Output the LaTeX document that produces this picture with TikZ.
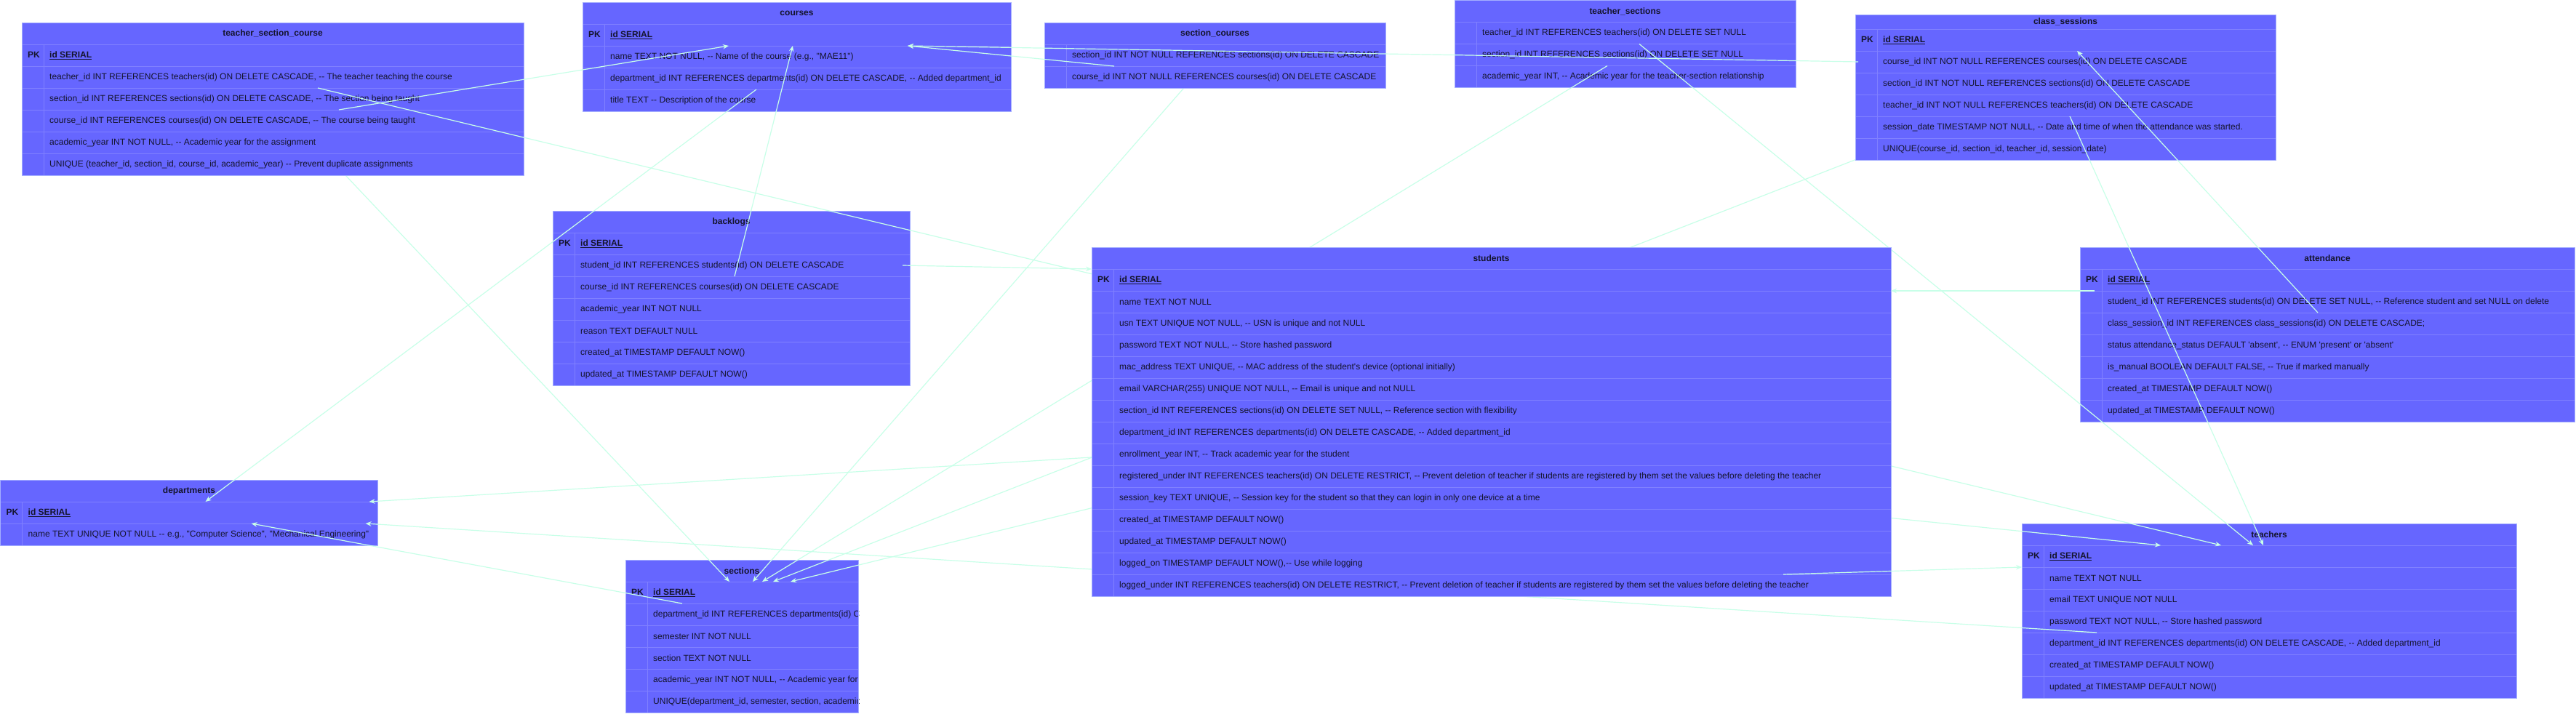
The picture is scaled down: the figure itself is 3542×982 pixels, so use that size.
\documentclass[tikz,border=0pt]{standalone}
\usepackage{fontspec}
\setmainfont{Liberation Sans}[Ligatures=TeXOff]
\usetikzlibrary{arrows.meta}
\definecolor{tablefill}{RGB}{102,102,255}
\definecolor{rowline}{RGB}{128,128,255}
\definecolor{tableedge}{RGB}{165,175,255}
\definecolor{fieldtext}{RGB}{20,20,45}
\definecolor{fkline}{RGB}{200,255,232}

\pgfdeclarelayer{secrefs}
\pgfdeclarelayer{tables}
\pgfdeclarelayer{refs}
\pgfdeclarelayer{stulayer}
\pgfdeclarelayer{sturefs}
\pgfsetlayers{main,secrefs,tables,refs,stulayer,sturefs}

\newcommand{\pkid}{\makebox[0pt][l]{\hspace{-30pt}\textbf{PK}}\textbf{\underline{id SERIAL}}}
% [header height]{name}{x}{y}{width}{title}{rows}
\newcommand{\ertable}[7][30]{%
  \node[erhead, minimum width=#5, minimum height=#1, anchor=north west] (#2-0) at (#3,#4) {#6};
  \foreach \fieldtxt [count=\i] in {#7} {
    \node[errow, minimum width=#5, anchor=north west] (#2-\i) at ({#3},{#4+#1+30*(\i-1)}) {};
    \node[ertext] at ([xshift=38pt]#2-\i.west) {\fieldtxt};
    \xdef\ernrows{\i}
  }
  \draw[rowline] ([xshift=30pt]#2-1.north west) -- ([xshift=30pt]#2-\ernrows.south west);
  \draw[tableedge] (#2-0.north west) rectangle (#2-\ernrows.south east);
}

\begin{document}
\catcode`\_=12
\begin{tikzpicture}[x=1pt, y=-1pt,
    erhead/.style={fill=tablefill, draw=rowline, inner sep=0pt, outer sep=0pt,
      font=\fontsize{12}{14}\selectfont\bfseries, text=fieldtext},
    errow/.style={fill=tablefill, draw=rowline, inner sep=0pt, outer sep=0pt, minimum height=30},
    ertext/.style={inner sep=0pt, anchor=west, font=\fontsize{12}{14}\selectfont, text=fieldtext},
    fk/.style={draw=fkline, line width=1.2pt, -{Stealth[length=8pt,width=6.5pt]}}]
  \fill[white] (0,0) rectangle (3542,982);
  \useasboundingbox (0,0) rectangle (3542,982);

  % tables, bottom layer
  \ertable{ts}{2000}{0.5}{469}{teacher_sections}{
    {teacher_id INT REFERENCES teachers(id) ON DELETE SET NULL},
    {section_id INT REFERENCES sections(id) ON DELETE SET NULL},
    {academic_year INT, -- Academic year for the teacher-section relationship}}
  \ertable{att}{2860}{340}{680}{attendance}{{\pkid},
    {student_id INT REFERENCES students(id) ON DELETE SET NULL, -- Reference student and set NULL on delete},
    {class_session_id INT REFERENCES class_sessions(id) ON DELETE CASCADE;},
    {status attendance_status DEFAULT 'absent', -- ENUM 'present' or 'absent'},
    {is_manual BOOLEAN DEFAULT FALSE, -- True if marked manually},
    {created_at TIMESTAMP DEFAULT NOW()},
    {updated_at TIMESTAMP DEFAULT NOW()}}
  \begin{scope}
    \clip (859,769) rectangle (1181,982);
    \ertable{sec}{860}{770}{320}{sections}{{\pkid},
      {department_id INT REFERENCES departments(id) C},
      {semester INT NOT NULL},
      {section TEXT NOT NULL},
      {academic_year INT NOT NULL, -- Academic year for},
      {UNIQUE(department_id, semester, section, academic}}
  \end{scope}

  % tables, middle layer
  \begin{pgfonlayer}{tables}
  \ertable{tsc}{30}{31}{690}{teacher_section_course}{{\pkid},
    {teacher_id INT REFERENCES teachers(id) ON DELETE CASCADE, -- The teacher teaching the course},
    {section_id INT REFERENCES sections(id) ON DELETE CASCADE, -- The section being taught},
    {course_id INT REFERENCES courses(id) ON DELETE CASCADE, -- The course being taught},
    {academic_year INT NOT NULL, -- Academic year for the assignment},
    {UNIQUE (teacher_id, section_id, course_id, academic_year) -- Prevent duplicate assignments}}
  \ertable{sc}{1436}{31}{469}{section_courses}{
    {section_id INT NOT NULL REFERENCES sections(id) ON DELETE CASCADE},
    {course_id INT NOT NULL REFERENCES courses(id) ON DELETE CASCADE}}
  \ertable[20]{cs}{2551}{20}{578}{class_sessions}{{\pkid},
    {course_id INT NOT NULL REFERENCES courses(id) ON DELETE CASCADE},
    {section_id INT NOT NULL REFERENCES sections(id) ON DELETE CASCADE},
    {teacher_id INT NOT NULL REFERENCES teachers(id) ON DELETE CASCADE},
    {session_date TIMESTAMP NOT NULL, -- Date and time of when the attendance was started.},
    {UNIQUE(course_id, section_id, teacher_id, session_date)}}
  \ertable{blg}{760}{290}{491}{backlogs}{{\pkid},
    {student_id INT REFERENCES students(id) ON DELETE CASCADE},
    {course_id INT REFERENCES courses(id) ON DELETE CASCADE},
    {academic_year INT NOT NULL},
    {reason TEXT DEFAULT NULL},
    {created_at TIMESTAMP DEFAULT NOW()},
    {updated_at TIMESTAMP DEFAULT NOW()}}
  \ertable{tea}{2780}{720}{680}{teachers}{{\pkid},
    {name TEXT NOT NULL},
    {email TEXT UNIQUE NOT NULL},
    {password TEXT NOT NULL, -- Store hashed password},
    {department_id INT REFERENCES departments(id) ON DELETE CASCADE, -- Added department_id},
    {created_at TIMESTAMP DEFAULT NOW()},
    {updated_at TIMESTAMP DEFAULT NOW()}}
  \ertable{crs}{801}{3}{589}{courses}{{\pkid},
    {name TEXT NOT NULL, -- Name of the course (e.g., "MAE11")},
    {department_id INT REFERENCES departments(id) ON DELETE CASCADE, -- Added department_id},
    {title TEXT -- Description of the course}}
  \ertable{dep}{0.5}{660}{519}{departments}{{\pkid},
    {name TEXT UNIQUE NOT NULL -- e.g., "Computer Science", "Mechanical Engineering"}}
  \end{pgfonlayer}

  % students on top
  \begin{pgfonlayer}{stulayer}
  \ertable{stu}{1501}{340}{1099}{students}{{\pkid},
    {name TEXT NOT NULL},
    {usn TEXT UNIQUE NOT NULL, -- USN is unique and not NULL},
    {password TEXT NOT NULL, -- Store hashed password},
    {mac_address TEXT UNIQUE, -- MAC address of the student's device (optional initially)},
    {email VARCHAR(255) UNIQUE NOT NULL, -- Email is unique and not NULL},
    {section_id INT REFERENCES sections(id) ON DELETE SET NULL, -- Reference section with flexibility},
    {department_id INT REFERENCES departments(id) ON DELETE CASCADE, -- Added department_id},
    {enrollment_year INT, -- Track academic year for the student},
    {registered_under INT REFERENCES teachers(id) ON DELETE RESTRICT, -- Prevent deletion of teacher if students are registered by them set the values before deleting the teacher},
    {session_key TEXT UNIQUE, -- Session key for the student so that they can login in only one device at a time},
    {created_at TIMESTAMP DEFAULT NOW()},
    {updated_at TIMESTAMP DEFAULT NOW()},
    {logged_on TIMESTAMP DEFAULT NOW(),-- Use while logging},
    {logged_under INT REFERENCES teachers(id) ON DELETE RESTRICT, -- Prevent deletion of teacher if students are registered by them set the values before deleting the teacher}}
  \end{pgfonlayer}

  % references to sections
  \begin{pgfonlayer}{secrefs}
  \draw[fk] ([xshift=360pt]tsc-3.south west) -- ([xshift=143pt]sec-1.north west);
  \draw[fk] ([xshift=218pt]sc-1.south west) -- ([xshift=175pt]sec-1.north west);
  \draw[fk] ([xshift=210pt]ts-2.south west) -- ([xshift=188pt]sec-1.north west);
  \draw[fk] ([xshift=230pt]cs-3.south west) -- ([xshift=203pt]sec-1.north west);
  \draw[fk] ([xshift=485pt]stu-7.south west) -- ([xshift=227pt]sec-1.north west);
  \end{pgfonlayer}

  % references to class_sessions, teachers, courses, departments
  \begin{pgfonlayer}{refs}
  \draw[fk] ([xshift=327pt]att-3.north west) -- ([xshift=305pt]cs-1.south west);
  \draw[fk] ([xshift=407pt]tsc-2.south west) -- ([xshift=274pt]tea-1.north west);
  \draw[fk] ([xshift=254pt]ts-1.south west) -- ([xshift=318pt]tea-1.north west);
  \draw[fk] ([xshift=295pt]cs-4.south west) -- ([xshift=332pt]tea-1.north west);
  \draw[fk] ([xshift=679pt]stu-10.south west) -- ([xshift=191pt]tea-1.north west);
  \draw[fk] ([xshift=436pt]tsc-4.north west) -- ([xshift=201pt]crs-1.south west);
  \draw[fk] ([xshift=250pt]blg-3.north west) -- ([xshift=289pt]crs-1.south west);
  \draw[fk] ([xshift=96pt]sc-2.north west) -- ([xshift=447pt]crs-1.south west);
  \draw[fk] ([xshift=4pt]cs-2.west) -- ([xshift=447pt]crs-1.south west);
  \draw[fk] ([xshift=239pt]crs-3.south west) -- ([xshift=282pt]dep-1.north west);
  \draw[fk] ([xshift=78pt]sec-2.north west) -- ([xshift=345pt]dep-1.south west);
  \draw[fk] ([xshift=103pt]tea-5.north west) -- ([xshift=502pt]dep-1.south west);
  \draw[fk] ([xshift=308pt]stu-8.south west) -- ([xshift=507pt]dep-1.north west);
  \end{pgfonlayer}

  % references to students, and the one drawn over them
  \begin{pgfonlayer}{sturefs}
  \draw[fk] ([xshift=-10pt]blg-2.east) -- (stu-1.north west);
  \draw[fk] ([xshift=20pt]att-2.north west) -- (stu-1.south east);
  \draw[fk] ([xshift=951pt]stu-15.north west) -- (tea-1.south west);
  \end{pgfonlayer}
\end{tikzpicture}
\end{document}
